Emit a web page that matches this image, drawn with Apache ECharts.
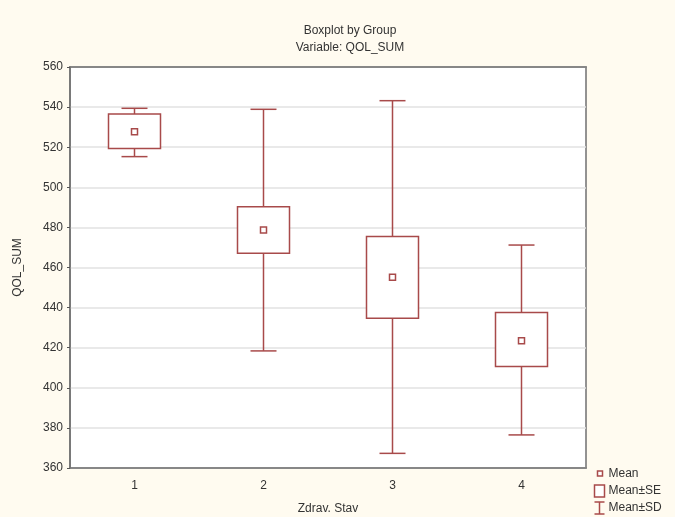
<!DOCTYPE html>
<html>
<head>
<meta charset="utf-8">
<script src="https://cdn.jsdelivr.net/npm/echarts@6/dist/echarts.min.js"></script>
<style>
  html, body { margin: 0; padding: 0; background: #fffbf0; }
  #chart { width: 675px; height: 517px; }
</style>
</head>
<body>
<div id="chart"></div>
<script>
// group values
const categories = ['1', '2', '3', '4']
const means = [527.7, 478.7, 455.1, 423.5]
const seLow = [519.3, 467.1, 434.7, 410.6]
const seHigh = [536.6, 490.3, 475.4, 437.5]
const sdLow = [515.3, 418.4, 367.3, 376.5]
const sdHigh = [539.4, 538.9, 543.2, 471.2]

const red = '#a84a4a'
const font = 'Liberation Sans, Arial, sans-serif'

let myChart = echarts.init(document.getElementById('chart'))

function renderSD(params, api) {
  let i = api.value(0)
  let top = api.coord([i, api.value(2)])
  let bot = api.coord([i, api.value(1)])
  let half = 13
  return {
    type: 'group',
    children: [
      { type: 'line', shape: { x1: top[0], y1: top[1], x2: bot[0], y2: bot[1] }, style: { stroke: red, lineWidth: 1.5 } },
      { type: 'line', shape: { x1: top[0] - half, y1: top[1], x2: top[0] + half, y2: top[1] }, style: { stroke: red, lineWidth: 1.5 } },
      { type: 'line', shape: { x1: bot[0] - half, y1: bot[1], x2: bot[0] + half, y2: bot[1] }, style: { stroke: red, lineWidth: 1.5 } },
    ],
  }
}

function renderSE(params, api) {
  let i = api.value(0)
  let top = api.coord([i, api.value(2)])
  let bot = api.coord([i, api.value(1)])
  let w = 52
  return {
    type: 'rect',
    shape: { x: top[0] - w / 2, y: top[1], width: w, height: bot[1] - top[1] },
    style: { fill: '#fff', stroke: red, lineWidth: 1.5 },
  }
}

function renderMean(params, api) {
  let p = api.coord([api.value(0), api.value(1)])
  let s = 6
  return {
    type: 'rect',
    shape: { x: p[0] - s / 2, y: p[1] - s / 2, width: s, height: s },
    style: { fill: '#fff', stroke: red, lineWidth: 1.5 },
  }
}

let option = {
  backgroundColor: '#fffbf0',
  animation: false,
  textStyle: { fontFamily: font },
  title: {
    text: 'Boxplot by Group\nVariable: QOL_SUM',
    left: 345,
    top: 17,
    textAlign: 'center',
    textStyle: { fontSize: 12, fontWeight: 'normal', color: '#333', lineHeight: 17, fontFamily: font },
  },
  grid: {
    left: 70,
    right: 89,
    top: 67,
    bottom: 49,
    outerBoundsMode: 'none',
    show: true,
    backgroundColor: '#fff',
    borderColor: '#707070',
    borderWidth: 1.5,
  },
  xAxis: [
    {
      type: 'category',
      data: categories,
      name: 'Zdrav. Stav',
      nameLocation: 'middle',
      nameGap: 35,
      nameTextStyle: { fontSize: 12, color: '#333' },
      axisLine: { lineStyle: { color: '#707070', width: 1.5 } },
      axisTick: { alignWithLabel: true, inside: true, length: 3, lineStyle: { color: '#555' } },
      axisLabel: { fontSize: 12, color: '#333', margin: 12 },
      splitLine: { show: false },
    },
    {
      type: 'category',
      data: categories,
      position: 'top',
      axisLine: { lineStyle: { color: '#707070', width: 1.5 } },
      axisTick: { alignWithLabel: true, inside: true, length: 3, lineStyle: { color: '#555' } },
      axisLabel: { show: false },
      splitLine: { show: false },
    },
  ],
  yAxis: {
    type: 'value',
    min: 360,
    max: 560,
    interval: 20,
    name: 'QOL_SUM',
    nameLocation: 'middle',
    nameGap: 46,
    nameTextStyle: { fontSize: 12, color: '#333' },
    axisLine: { show: true, lineStyle: { color: '#707070', width: 1.5 } },
    axisTick: { show: true, length: 3, lineStyle: { color: '#555' } },
    axisLabel: { fontSize: 12, color: '#333', margin: 7 },
    splitLine: { lineStyle: { color: '#e2e2e2', width: 1.5 } },
  },
  series: [
    {
      name: 'Mean±SD',
      type: 'custom',
      renderItem: renderSD,
      encode: { x: 0, y: [1, 2] },
      data: categories.map((c, i) => [i, sdLow[i], sdHigh[i]]),
      z: 2,
    },
    {
      name: 'Mean±SE',
      type: 'custom',
      renderItem: renderSE,
      encode: { x: 0, y: [1, 2] },
      data: categories.map((c, i) => [i, seLow[i], seHigh[i]]),
      z: 3,
    },
    {
      name: 'Mean',
      type: 'custom',
      renderItem: renderMean,
      encode: { x: 0, y: 1 },
      data: categories.map((c, i) => [i, means[i]]),
      z: 4,
    },
  ],
  graphic: [
    {
      type: 'group',
      left: 592,
      top: 468,
      children: [
        { type: 'rect', shape: { x: 3, y: 3, width: 5, height: 5 }, style: { fill: '#fff', stroke: red, lineWidth: 1.5 } },
        { type: 'text', x: 14, y: 6, style: { text: 'Mean', fontSize: 12, fill: '#333', fontFamily: font, verticalAlign: 'middle' } },
        { type: 'rect', shape: { x: 0, y: 17, width: 10, height: 12 }, style: { fill: '#fff', stroke: red, lineWidth: 1.5 } },
        { type: 'text', x: 14, y: 23, style: { text: 'Mean±SE', fontSize: 12, fill: '#333', fontFamily: font, verticalAlign: 'middle' } },
        { type: 'line', shape: { x1: 0, y1: 34, x2: 10, y2: 34 }, style: { stroke: red, lineWidth: 1.5 } },
        { type: 'line', shape: { x1: 5, y1: 34, x2: 5, y2: 46 }, style: { stroke: red, lineWidth: 1.5 } },
        { type: 'line', shape: { x1: 0, y1: 46, x2: 10, y2: 46 }, style: { stroke: red, lineWidth: 1.5 } },
        { type: 'text', x: 14, y: 40, style: { text: 'Mean±SD', fontSize: 12, fill: '#333', fontFamily: font, verticalAlign: 'middle' } },
      ],
    },
  ],
}

myChart.setOption(option)
</script>
</body>
</html>
